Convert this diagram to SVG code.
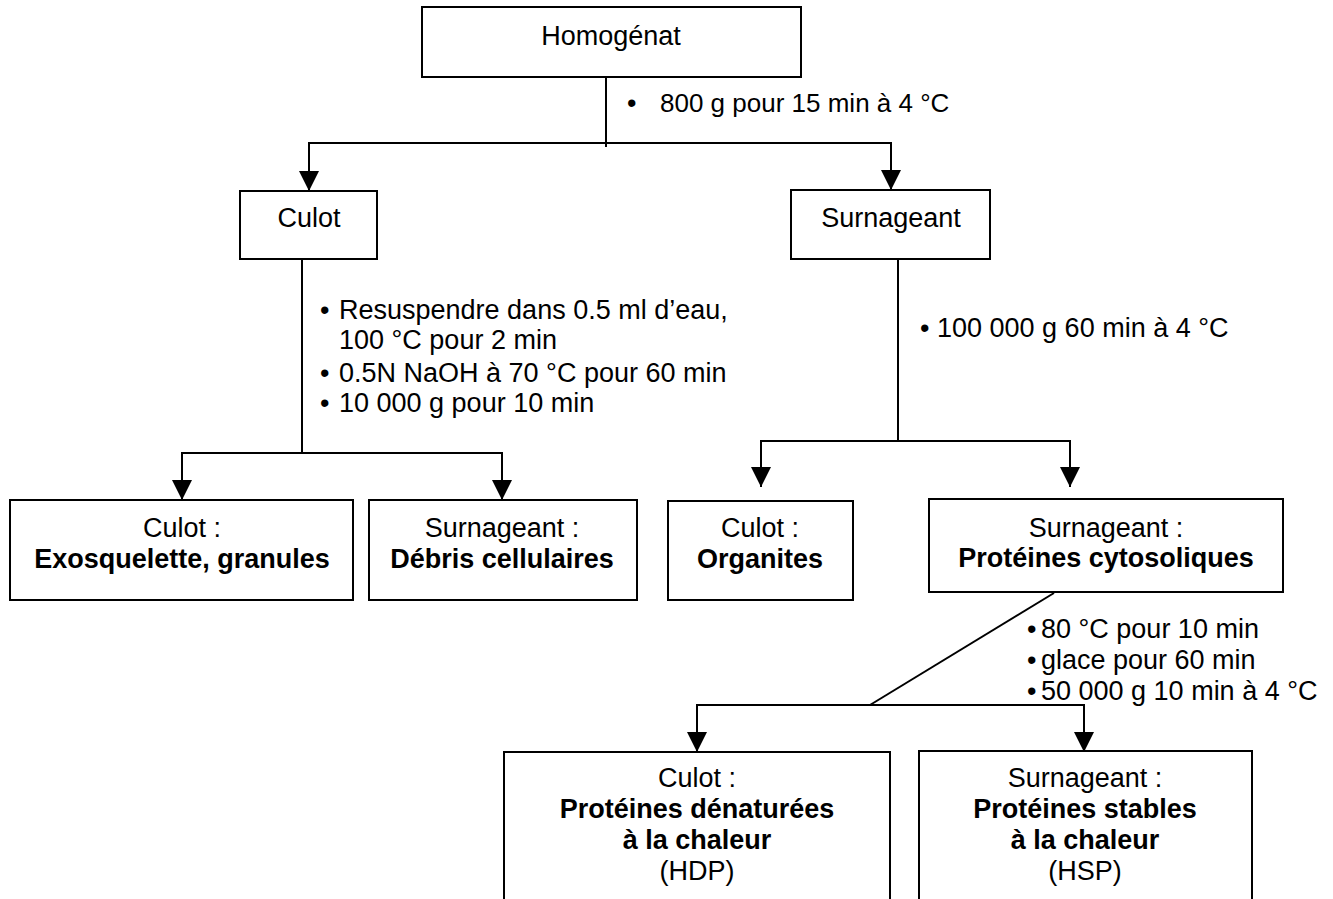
<svg xmlns="http://www.w3.org/2000/svg" width="1333" height="899" viewBox="0 0 1333 899">
<defs>
<style>
.box{fill:#fff;stroke:#000;stroke-width:2}
.ln{fill:none;stroke:#000;stroke-width:2}
text{font-family:"Liberation Sans",Arial,sans-serif;font-size:27px;fill:#000}
.c{text-anchor:middle}
.b{font-weight:bold}
</style>
</defs>
<rect width="1333" height="899" fill="#fff"/>
<g id="connectors">
<path class="ln" d="M606,77 V147"/>
<path class="ln" d="M309,191 V143 H891 V190"/>
<path class="ln" d="M302,259 V453"/>
<path class="ln" d="M182,500 V453 H502 V500"/>
<path class="ln" d="M898,259 V441"/>
<path class="ln" d="M761,487 V441 H1070 V487"/>
<path class="ln" d="M1054,593 L870,705"/>
<path class="ln" d="M697,752 V705 H1084 V752"/>
<g fill="#000">
<path d="M299,171 L319,171 L309,191 Z"/>
<path d="M881,170 L901,170 L891,190 Z"/>
<path d="M172,480 L192,480 L182,500 Z"/>
<path d="M492,480 L512,480 L502,500 Z"/>
<path d="M751,467 L771,467 L761,487 Z"/>
<path d="M1060,467 L1080,467 L1070,487 Z"/>
<path d="M687,732 L707,732 L697,752 Z"/>
<path d="M1074,732 L1094,732 L1084,752 Z"/>
</g>
<text id="lbl1" y="112"><tspan x="627">•</tspan><tspan x="660" style="font-size:26px">800 g pour 15 min à 4 °C</tspan></text>
<g id="lbl2">
<text y="319"><tspan x="320">•</tspan><tspan x="339">Resuspendre dans 0.5 ml d’eau,</tspan></text>
<text x="339" y="349">100 °C pour 2 min</text>
<text y="382"><tspan x="320">•</tspan><tspan x="339">0.5N NaOH à 70 °C pour 60 min</tspan></text>
<text y="412"><tspan x="320">•</tspan><tspan x="339">10 000 g pour 10 min</tspan></text>
</g>
<text id="lbl3" y="337"><tspan x="920">•</tspan><tspan x="937">100 000 g 60 min à 4 °C</tspan></text>
<g id="lbl4">
<text y="638"><tspan x="1027">•</tspan><tspan x="1041">80 °C pour 10 min</tspan></text>
<text y="669"><tspan x="1027">•</tspan><tspan x="1041">glace pour 60 min</tspan></text>
<text y="700"><tspan x="1027">•</tspan><tspan x="1041">50 000 g 10 min à 4 °C</tspan></text>
</g>
</g>
<g id="homogenat">
<rect class="box" x="422" y="7" width="379" height="70"/>
<text class="c" x="611" y="45">Homogénat</text>
</g>
<g id="culot1">
<rect class="box" x="240" y="191" width="137" height="68"/>
<text class="c" x="309" y="227">Culot</text>
</g>
<g id="surnageant1">
<rect class="box" x="791" y="190" width="199" height="69"/>
<text class="c" x="891" y="227">Surnageant</text>
</g>
<g id="exosquelette">
<rect class="box" x="10" y="500" width="343" height="100"/>
<text class="c" x="182" y="537">Culot :</text>
<text class="c b" x="182" y="568">Exosquelette, granules</text>
</g>
<g id="debris">
<rect class="box" x="369" y="500" width="268" height="100"/>
<text class="c" x="502" y="537">Surnageant :</text>
<text class="c b" x="502" y="568">Débris cellulaires</text>
</g>
<g id="organites">
<rect class="box" x="668" y="501" width="185" height="99"/>
<text class="c" x="760" y="537">Culot :</text>
<text class="c b" x="760" y="568">Organites</text>
</g>
<g id="cytosoliques">
<rect class="box" x="929" y="499" width="354" height="93"/>
<text class="c" x="1106" y="537">Surnageant :</text>
<text class="c b" x="1106" y="567">Protéines cytosoliques</text>
</g>
<g id="hdp">
<rect class="box" x="504" y="752" width="386" height="160"/>
<text class="c" x="697" y="787">Culot :</text>
<text class="c b" x="697" y="818">Protéines dénaturées</text>
<text class="c b" x="697" y="849">à la chaleur</text>
<text class="c" x="697" y="880">(HDP)</text>
</g>
<g id="hsp">
<rect class="box" x="919" y="751" width="333" height="160"/>
<text class="c" x="1085" y="787">Surnageant :</text>
<text class="c b" x="1085" y="818">Protéines stables</text>
<text class="c b" x="1085" y="849">à la chaleur</text>
<text class="c" x="1085" y="880">(HSP)</text>
</g>
</svg>
